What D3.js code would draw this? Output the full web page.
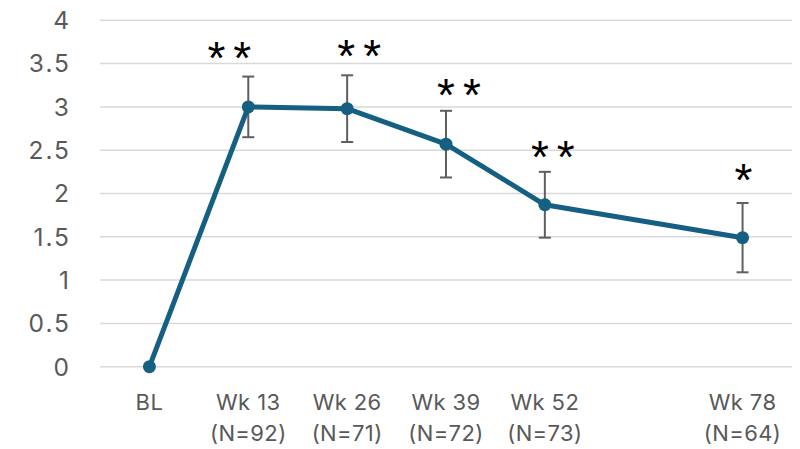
<!DOCTYPE html>
<html>
<head>
<meta charset="utf-8">
<script src="https://cdn.jsdelivr.net/npm/d3@7"></script>
<style>
  html, body { margin: 0; padding: 0; background: #ffffff; }
  svg { display: block; }
</style>
</head>
<body>
<svg id="chart" width="800" height="449"></svg>
<script>
// Visit timeline (weeks from baseline) and axis labels
const weeks = [0, 13, 26, 39, 52, 78];
const visitLabels = ["BL", "Wk 13", "Wk 26", "Wk 39", "Wk 52", "Wk 78"];
const sampleSizes = [null, 92, 71, 72, 73, 64];

// Mean change from baseline and standard error at each visit
const meanChange = [0, 3.00, 2.98, 2.57, 1.87, 1.49];
const stdError = [null, 0.35, 0.385, 0.385, 0.38, 0.40];

// Significance markers above each visit
const significance = ["", "**", "**", "**", "**", "*"];

// Y-axis ticks
const yTicks = [0, 0.5, 1, 1.5, 2, 2.5, 3, 3.5, 4];

const svg = d3.select("#chart");
const font = "Inter, 'Liberation Sans', Arial, sans-serif";
const lineColor = "#156082";
const textGray = "#595959";

const plotLeft = 100, plotRight = 792, plotTop = 20.3, plotBottom = 366.7;

// Category slots are 13 weeks wide; the axis leaves half a slot on each end
const x = d3.scaleLinear().domain([-6.5, 84.5]).range([plotLeft, plotRight]);
const y = d3.scaleLinear().domain([0, 4]).range([plotBottom, plotTop]);

// Horizontal gridlines
svg.append("g")
  .selectAll("line")
  .data(yTicks)
  .join("line")
  .attr("x1", plotLeft)
  .attr("x2", plotRight)
  .attr("y1", d => y(d))
  .attr("y2", d => y(d))
  .attr("stroke", "#d9d9d9")
  .attr("stroke-width", 1.5);

// Y-axis tick labels
svg.append("g")
  .selectAll("text")
  .data(yTicks)
  .join("text")
  .attr("x", 71)
  .attr("y", d => y(d))
  .attr("dy", "0.36em")
  .attr("text-anchor", "end")
  .attr("font-family", font)
  .attr("font-size", 24.5)
  .attr("letter-spacing", 2)
  .attr("fill", textGray)
  .text(d => d3.format("")(d));

// X-axis category labels (two lines where N is given)
const visits = weeks.map((w, i) => ({ w, label: visitLabels[i], n: sampleSizes[i] }));
const xLab = svg.append("g")
  .selectAll("text")
  .data(visits)
  .join("text")
  .attr("text-anchor", "middle")
  .attr("font-family", font)
  .attr("font-size", 22)
  .attr("letter-spacing", 0.4)
  .attr("fill", textGray);
xLab.append("tspan")
  .attr("x", d => x(d.w))
  .attr("y", 410)
  .text(d => d.label);
xLab.filter(d => d.n != null)
  .append("tspan")
  .attr("x", d => x(d.w))
  .attr("y", 441)
  .text(d => `(N=${d.n})`);

// Points combined for drawing
const pts = weeks.map((w, i) => ({ i, w, m: meanChange[i], se: stdError[i], sig: significance[i] }));
const withErr = pts.filter(p => p.se != null);

// Error bars
const eb = svg.append("g").attr("stroke", "#5f5f5f").attr("stroke-width", 2);
eb.selectAll("line.v")
  .data(withErr)
  .join("line")
  .attr("class", "v")
  .attr("x1", p => x(p.w)).attr("x2", p => x(p.w))
  .attr("y1", p => y(p.m + p.se)).attr("y2", p => y(p.m - p.se));
eb.selectAll("line.top")
  .data(withErr)
  .join("line")
  .attr("class", "top")
  .attr("x1", p => x(p.w) - 6).attr("x2", p => x(p.w) + 6)
  .attr("y1", p => y(p.m + p.se)).attr("y2", p => y(p.m + p.se));
eb.selectAll("line.bot")
  .data(withErr)
  .join("line")
  .attr("class", "bot")
  .attr("x1", p => x(p.w) - 6).attr("x2", p => x(p.w) + 6)
  .attr("y1", p => y(p.m - p.se)).attr("y2", p => y(p.m - p.se));

// Mean change line
const line = d3.line().x(p => x(p.w)).y(p => y(p.m));
svg.append("path")
  .datum(pts)
  .attr("d", line)
  .attr("fill", "none")
  .attr("stroke", lineColor)
  .attr("stroke-width", 5)
  .attr("stroke-linejoin", "round");

// Markers
svg.append("g")
  .selectAll("circle")
  .data(pts)
  .join("circle")
  .attr("cx", p => x(p.w))
  .attr("cy", p => y(p.m))
  .attr("r", 6.5)
  .attr("fill", lineColor);

// Significance asterisks, placed above the upper whisker with small layout nudges
const starNudgeX = [0, -19, 12, 13, 8, 1];
const starNudgeY = [0, 0, 0, 3, 4, -4];
svg.append("g")
  .selectAll("text")
  .data(withErr)
  .join("text")
  .attr("x", p => x(p.w) + starNudgeX[p.i] + 4)
  .attr("y", p => y(p.m + p.se) - 3 + starNudgeY[p.i])
  .attr("text-anchor", "middle")
  .attr("font-family", "'Liberation Sans', Arial, sans-serif")
  .attr("font-size", 46)
  .attr("letter-spacing", 8)
  .attr("fill", "#000000")
  .text(p => p.sig);
</script>
</body>
</html>
